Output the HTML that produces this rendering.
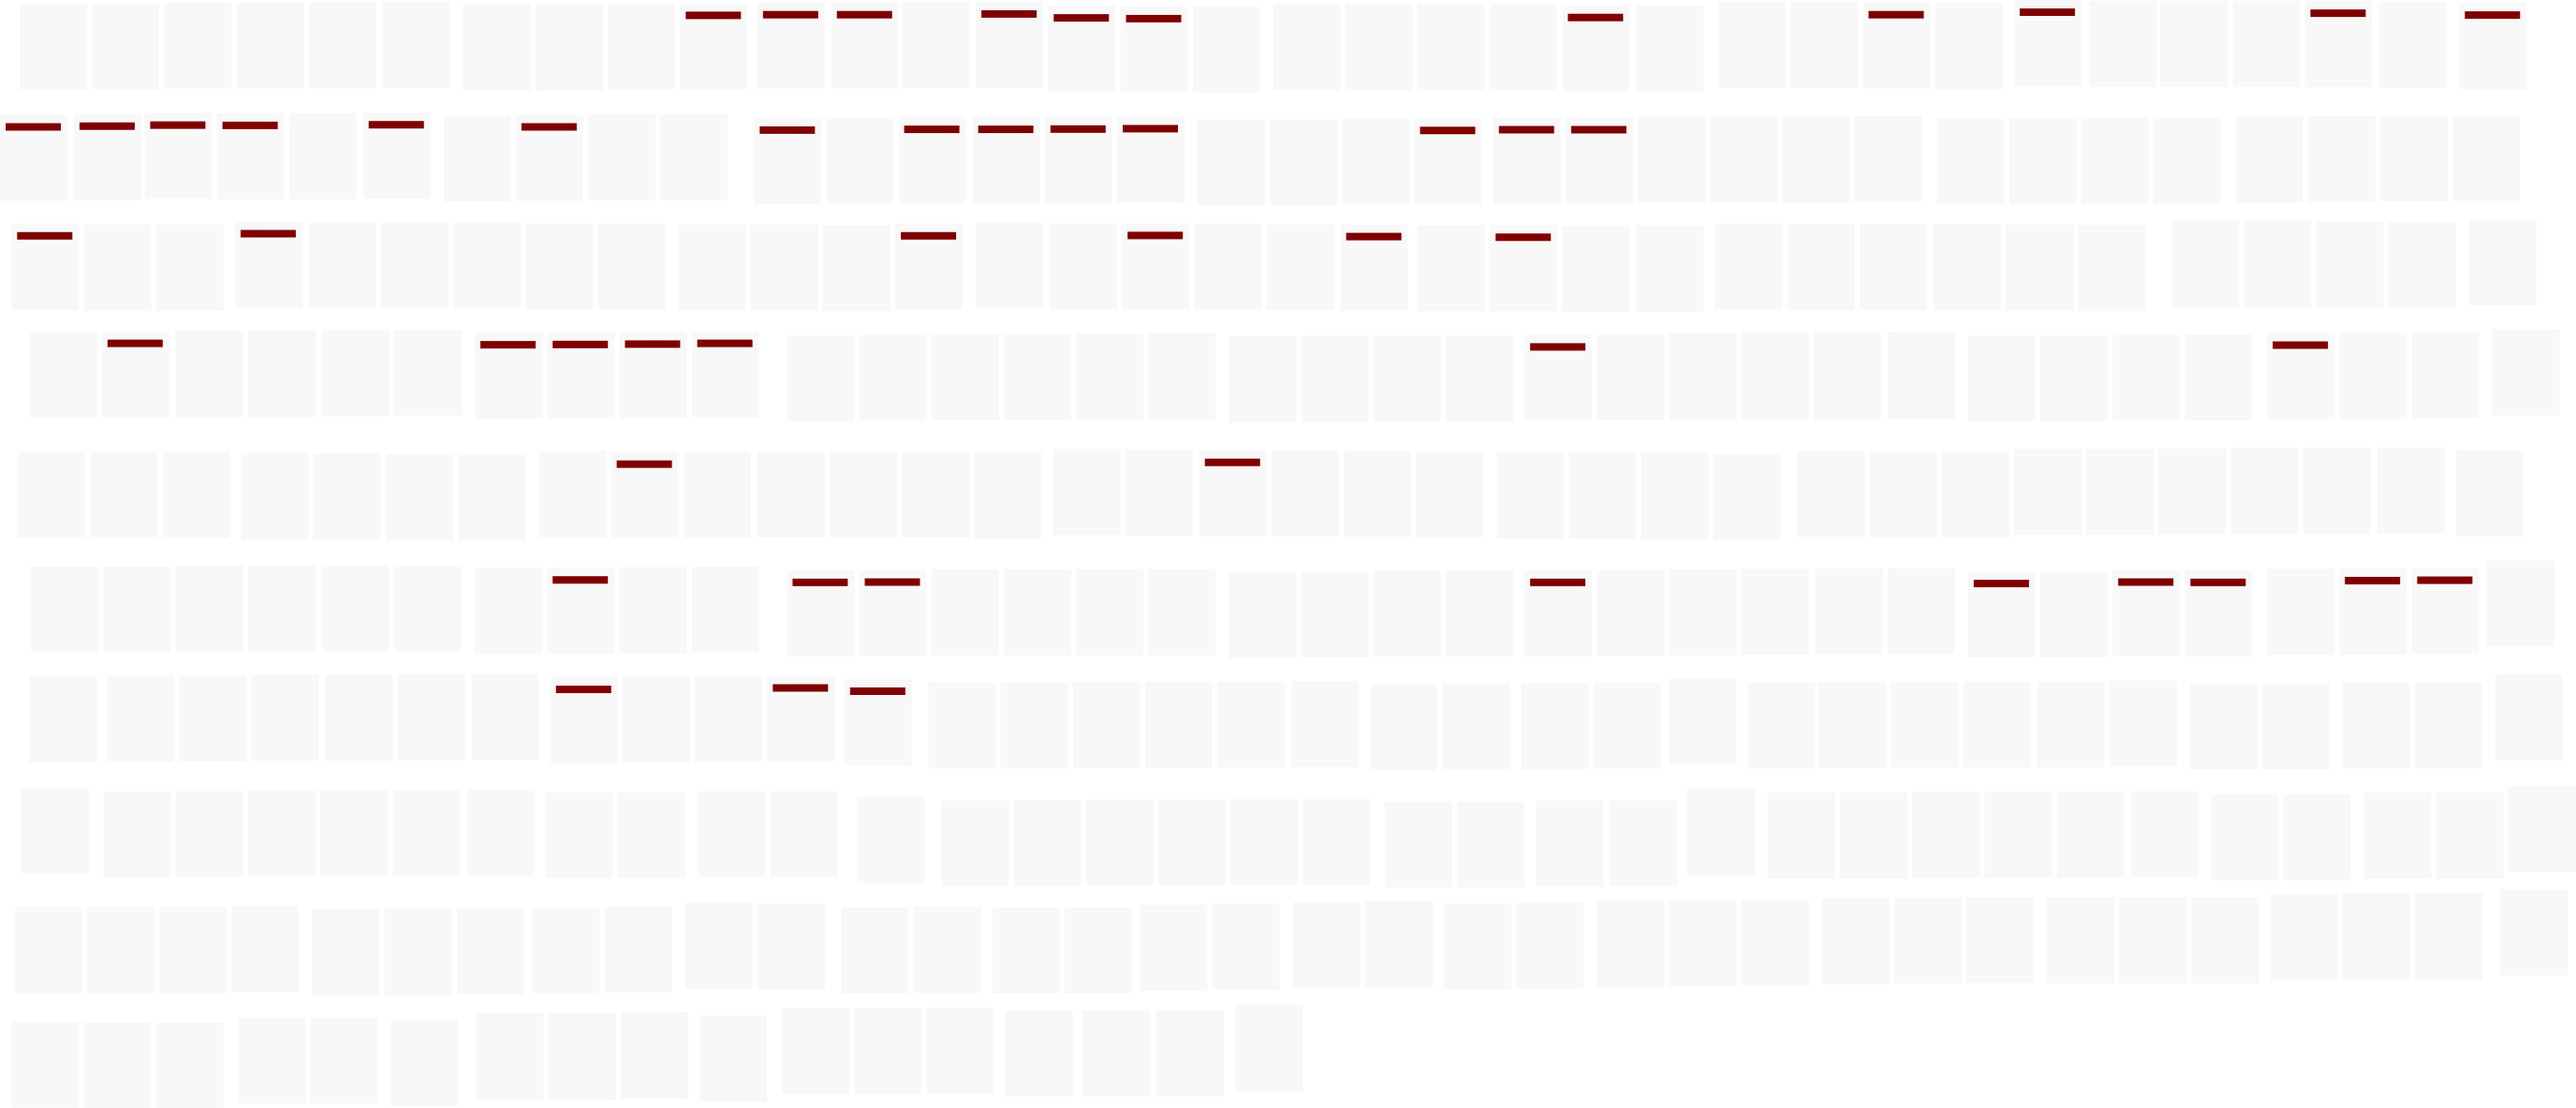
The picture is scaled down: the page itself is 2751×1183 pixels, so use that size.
<!DOCTYPE html>
<html>
<head>
<meta charset="utf-8">
<style>
html,body{margin:0;padding:0;background:#fff;}
svg{display:block;}
</style>
</head>
<body>
<svg id="chart" width="2751" height="1183" viewBox="0 0 2751 1183" xmlns="http://www.w3.org/2000/svg">
<rect x="0" y="0" width="2751" height="1183" fill="#ffffff"/>
<g id="cells"></g>
</svg>
<script>
// Rows of cells: [column position, top value, flagged(1/0)] in source units
const row1 = [[12,10,0],[56,9,0],[100,7,0],[144,7,0],[188,6,0],[233,5,0],[282,12,0],[326,12,0],[370,9,0],[414,9,1],[461,7,1],[506,7,1],[549,5,0],[594,5,1],[638,16,1],[682,18,1],[726,19,0],[775,11,0],[819,12,0],[863,12,0],[907,12,0],[951,15,1],[996,15,0],[1046,5,0],[1090,5,0],[1134,7,1],[1178,8,0],[1226,0,1],[1272,2,0],[1315,2,0],[1359,2,0],[1403,3,1],[1448,5,0],[1497,8,1]];
const row2 = [[0,320,1],[45,318,1],[88,315,1],[132,316,1],[176,316,0],[221,314,1],[270,322,0],[314,320,1],[358,318,0],[402,318,0],[459,329,1],[503,328,0],[547,327,1],[592,327,1],[636,326,1],[680,325,1],[729,333,0],[773,333,0],[817,330,0],[861,330,1],[909,328,1],[953,328,1],[997,325,0],[1041,325,0],[1085,324,0],[1129,323,0],[1179,331,0],[1223,330,0],[1267,328,0],[1311,328,0],[1361,324,0],[1405,323,0],[1449,322,0],[1493,321,0]];
const row3 = [[7,624,1],[51,626,0],[95,626,0],[143,618,1],[188,620,0],[232,621,0],[276,621,0],[320,623,0],[364,624,0],[413,626,0],[457,626,0],[501,628,0],[545,624,1],[594,621,0],[639,623,0],[683,623,1],[727,624,0],[771,626,0],[816,626,1],[863,628,0],[907,628,1],[951,630,0],[996,630,0],[1044,624,0],[1088,625,0],[1132,625,0],[1177,625,0],[1221,626,0],[1265,627,0],[1322,617,0],[1366,617,0],[1410,618,0],[1454,619,0],[1503,612,0]];
const row4 = [[18,924,0],[62,924,1],[107,922,0],[151,922,0],[196,921,0],[240,919,0],[289,928,1],[333,927,1],[377,926,1],[421,924,1],[479,935,0],[523,934,0],[567,932,0],[611,932,0],[655,931,0],[699,930,0],[748,938,0],[792,937,0],[836,935,0],[880,935,0],[928,934,1],[972,932,0],[1016,930,0],[1060,929,0],[1104,929,0],[1149,928,0],[1198,936,0],[1242,935,0],[1286,934,0],[1330,933,0],[1380,929,1],[1424,929,0],[1468,927,0],[1517,919,0]];
const row5 = [[11,1259,0],[55,1261,0],[99,1261,0],[147,1264,0],[191,1265,0],[235,1266,0],[279,1267,0],[328,1259,0],[372,1261,1],[416,1261,0],[461,1260,0],[505,1259,0],[549,1260,0],[593,1262,0],[641,1253,0],[685,1255,0],[730,1256,1],[774,1256,0],[818,1258,0],[862,1259,0],[911,1262,0],[955,1262,0],[999,1264,0],[1043,1266,0],[1094,1258,0],[1138,1259,0],[1182,1259,0],[1226,1252,0],[1270,1252,0],[1314,1250,0],[1358,1249,0],[1402,1249,0],[1447,1248,0],[1495,1256,0]];
const row6 = [[19,65,0],[63,65,0],[107,62,0],[151,62,0],[196,61,0],[240,61,0],[289,68,0],[333,68,1],[377,66,0],[421,65,0],[479,75,1],[523,74,1],[567,73,0],[611,73,0],[655,72,0],[699,72,0],[748,80,0],[792,78,0],[836,76,0],[880,76,0],[928,75,1],[972,74,0],[1016,73,0],[1060,71,0],[1105,69,0],[1149,69,0],[1198,78,1],[1242,78,0],[1286,74,1],[1330,75,1],[1380,71,0],[1424,70,1],[1468,69,1],[1514,48,0]];
const row7 = [[18,370,0],[65,368,0],[109,367,0],[153,365,0],[198,365,0],[242,364,0],[287,362,0],[335,372,1],[379,370,0],[423,368,0],[467,368,1],[514,377,1],[565,387,0],[609,386,0],[653,385,0],[697,385,0],[741,384,0],[786,383,0],[834,392,0],[878,390,0],[926,388,0],[970,387,0],[1016,375,0],[1064,386,0],[1107,385,0],[1151,384,0],[1195,384,0],[1240,384,0],[1284,381,0],[1333,389,0],[1377,389,0],[1426,386,0],[1470,386,0],[1519,364,0]];
const row8 = [[13,677,0],[63,689,0],[107,688,0],[151,685,0],[195,685,0],[239,685,0],[284,683,0],[332,691,0],[376,691,0],[425,688,0],[469,688,0],[522,704,0],[573,714,0],[617,713,0],[661,711,0],[705,711,0],[749,710,0],[793,710,0],[843,717,0],[887,717,0],[935,714,0],[980,714,0],[1027,682,0],[1076,692,0],[1120,692,0],[1164,690,0],[1208,689,0],[1252,689,0],[1297,688,0],[1346,696,0],[1390,696,0],[1439,692,0],[1483,692,0],[1527,674,0]];
const row9 = [[9,1009,0],[53,1009,0],[97,1009,0],[141,1007,0],[190,1016,0],[234,1015,0],[278,1013,0],[324,1010,0],[368,1008,0],[417,999,0],[461,1000,0],[512,1011,0],[556,1009,0],[604,1011,0],[648,1011,0],[694,1003,0],[738,1000,0],[787,995,0],[831,994,0],[879,1000,0],[923,999,0],[972,993,0],[1016,992,0],[1060,990,0],[1109,985,0],[1153,984,0],[1197,982,0],[1246,983,0],[1290,983,0],[1334,983,0],[1382,974,0],[1426,972,0],[1470,972,0],[1522,961,0]];
const row10 = [[7,1328,0],[51,1330,0],[95,1330,0],[145,1317,0],[189,1317,0],[238,1325,0],[290,1305,0],[334,1305,0],[378,1302,0],[426,1311,0],[476,1290,0],[520,1290,0],[564,1289,0],[612,1297,0],[659,1297,0],[704,1297,0],[752,1282,0]];

const upperRows = [row1,row2,row3,row4,row5];
const lowerRows = [row6,row7,row8,row9,row10];

function xScale(v){ return v / 0.570; }
function yUpper(v){ return v / 2.613; }
function yLower(v){ return 580 + v / 2.600; }

const CELL_W = 72, CELL_H = 92;
const NS = 'http://www.w3.org/2000/svg';
const g = document.getElementById('cells');

function drawRow(row, yFn, ri){
  row.forEach(function(c, ci){
    const x = xScale(c[0]);
    const y = yFn(c[1]);
    const r = document.createElementNS(NS,'rect');
    r.setAttribute('x', x.toFixed(1));
    r.setAttribute('y', y.toFixed(1));
    r.setAttribute('width', CELL_W);
    r.setAttribute('height', CELL_H);
    r.setAttribute('fill', '#f8f8f8');
    
    
    g.appendChild(r);
    if (c[2]) {
      const m = document.createElementNS(NS,'rect');
      m.setAttribute('x', (x + 6).toFixed(1));
      m.setAttribute('y', (y + 9).toFixed(1));
      m.setAttribute('width', 59);
      m.setAttribute('height', 8);
      m.setAttribute('fill', '#800000');
      
      
      g.appendChild(m);
    }
  });
}
upperRows.forEach(function(row,i){ drawRow(row, yUpper, i+1); });
lowerRows.forEach(function(row,i){ drawRow(row, yLower, i+6); });
</script>
</body>
</html>
